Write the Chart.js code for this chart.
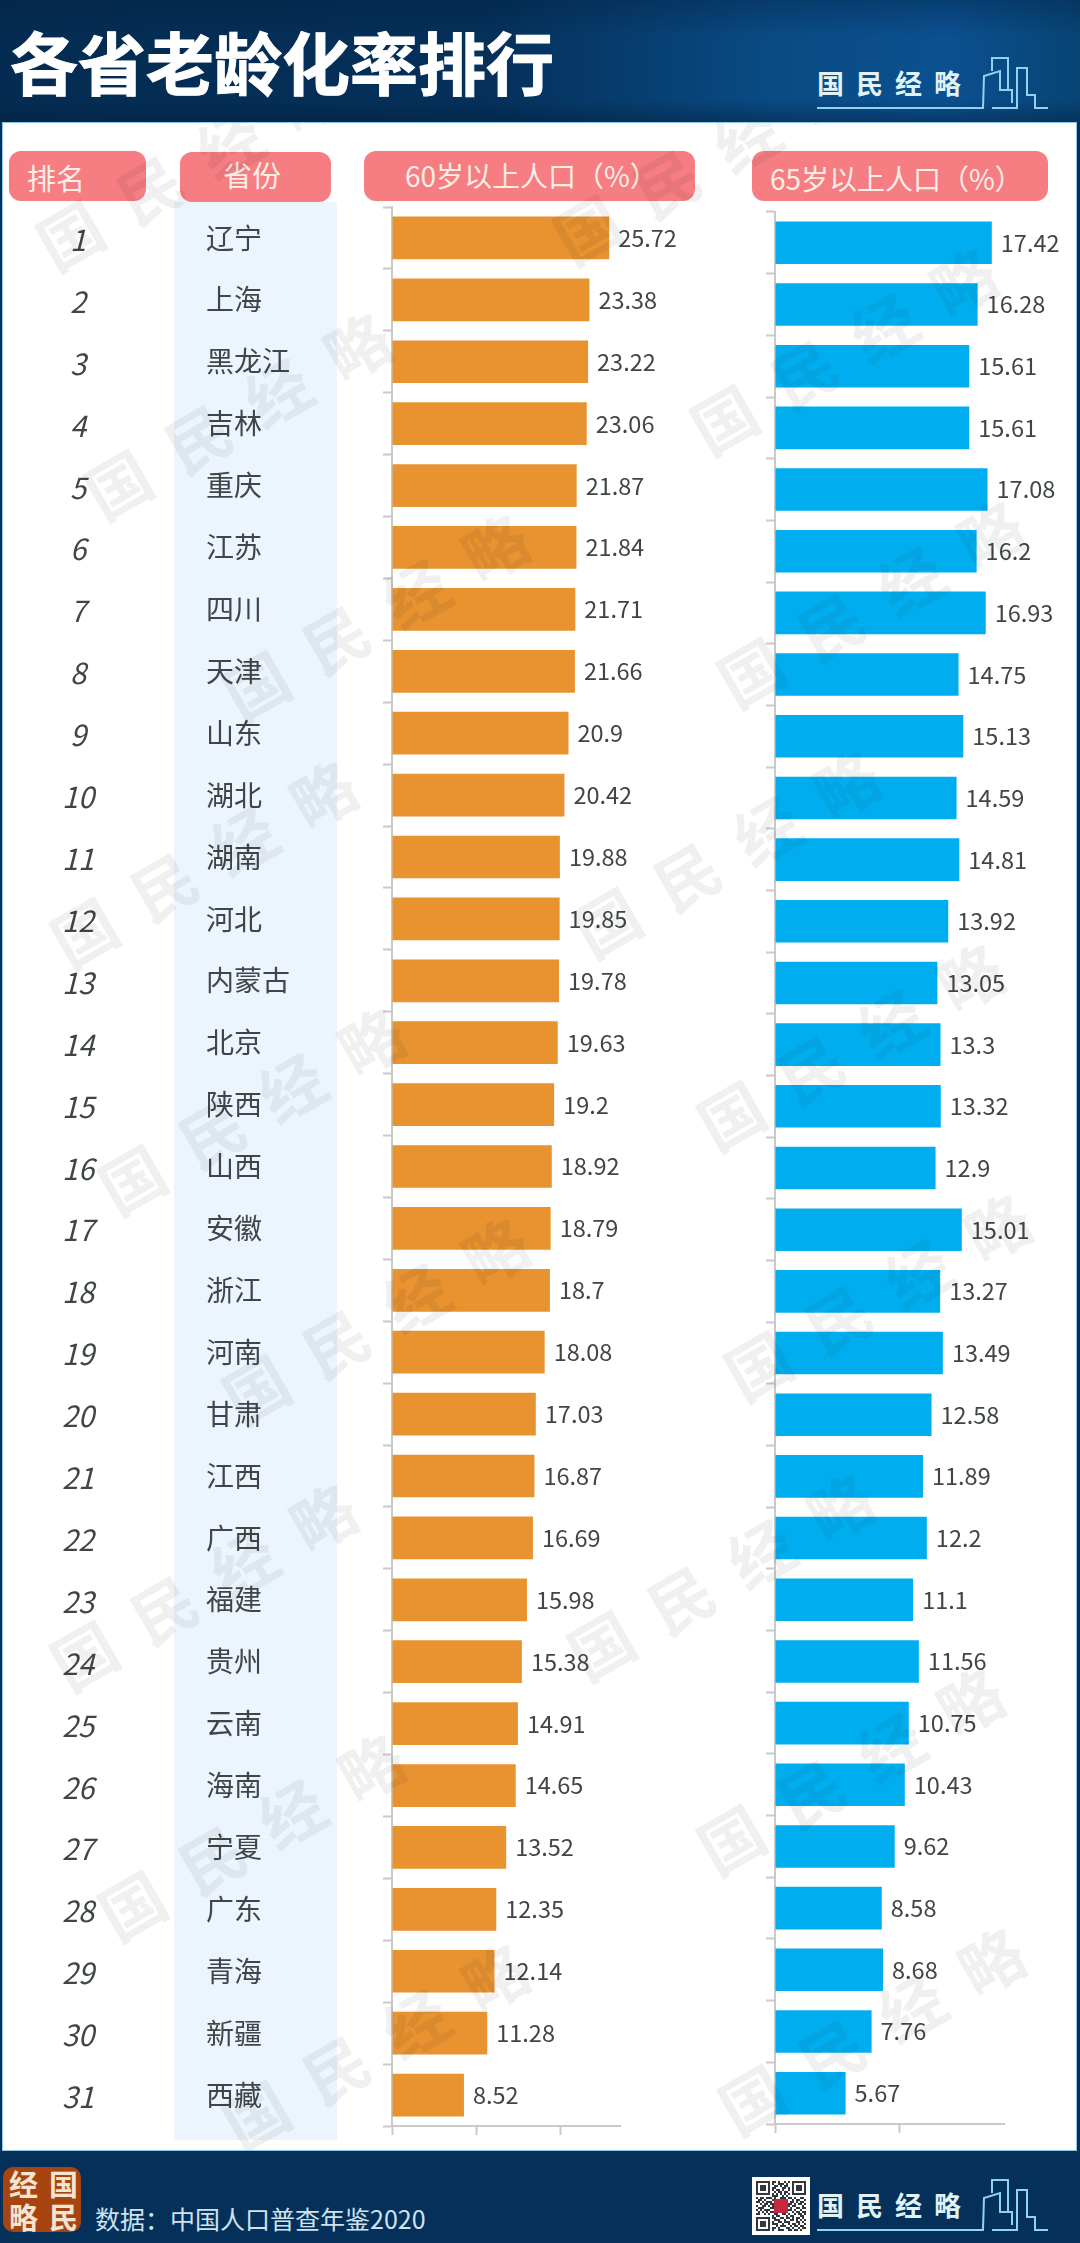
<!DOCTYPE html>
<html lang="zh">
<head>
<meta charset="utf-8">
<title>各省老龄化率排行</title>
<script src="https://cdn.jsdelivr.net/npm/chart.js@4"></script>
<style>
  html, body { margin: 0; padding: 0; }
  body { position: relative; width: 1080px; height: 2243px; overflow: hidden; background: #04305a;
         font-family: "Noto Sans CJK SC", sans-serif; color: #404548; }
  .abs, canvas { position: absolute; }
  #header { left: 0; top: 0; width: 1080px; height: 122px;
            background: linear-gradient(180deg, rgba(2,30,60,.35) 0, rgba(2,30,60,0) 30%, rgba(2,30,60,0) 82%, rgba(2,30,60,.45) 100%),
                        linear-gradient(90deg, #042c52 0, #04305a 45%, #0a4b84 72%, #0b5090 88%, #084474 100%); }
  #title { left: 10px; top: 24px; font-size: 68px; line-height: 74px; font-weight: 700; color: #fff; white-space: nowrap;
           -webkit-text-stroke: 1px #fff; }
  #panel { left: 2px; top: 122px; width: 1073px; height: 2027px; background: #fff; border: 1px solid #8cc6e4; box-sizing: content-box; }
  #provinceBand { left: 174px; top: 202px; width: 163px; height: 1938px; background: #ecf5fd; }
  .pill { background: #f67d82; border-radius: 12px; height: 50px; }
  .pillText { font-size: 28px; line-height: 40px; color: #fdeee6; white-space: nowrap; }
  #marks { left: 3px; top: 123px; width: 1073px; height: 2027px; overflow: hidden; pointer-events: none; }
  .wm { position: absolute; font-size: 64px; line-height: 64px; font-weight: 700; letter-spacing: 28px; white-space: nowrap;
        color: rgba(30,30,30,.065); transform-origin: 32px 32px; transform: rotate(-30deg); }
  #seal { left: 3px; top: 2167px; width: 78px; height: 65px; border-radius: 10px; background: #a8440f; }
  .sealChar { font-size: 29px; line-height: 30px; font-weight: 700; color: #f6e4d2; }
  #source { left: 95px; top: 2200px; font-size: 25px; line-height: 36px; color: #cfe2f0; white-space: nowrap; }
  .logoText { font-size: 27px; line-height: 30px; font-weight: 700; letter-spacing: 12px; color: #dff2f6; white-space: nowrap; }
</style>
</head>
<body>
<div class="abs" id="header"></div>
<div class="abs" id="title">各省老龄化率排行</div>
<div class="abs" id="panel"></div>

<div class="abs pill" style="left:9px;top:151px;width:137px"></div>
<div class="abs pillText" style="left:27px;top:157px;font-size:29px">排名</div>
<div class="abs pill" style="left:180px;top:152px;width:151px"></div>
<div class="abs pillText" style="left:223px;top:154px;font-size:29px">省份</div>
<div class="abs pill" style="left:364px;top:151px;width:331px"></div>
<div class="abs pillText" style="left:405px;top:155px">60岁以上人口&#xFF08;%&#xFF09;</div>
<div class="abs pill" style="left:752px;top:151px;width:296px"></div>
<div class="abs pillText" style="left:770px;top:158px">65岁以上人口&#xFF08;%&#xFF09;</div>

<div class="abs" id="provinceBand"></div>

<canvas id="chart60" width="703" height="1932" style="left:0;top:205px"></canvas>
<canvas id="chart65" width="300" height="1925" style="left:766px;top:210px"></canvas>

<div class="abs" id="marks"></div>

<div class="abs" id="seal"></div>
<div class="abs sealChar" style="left:9px;top:2168px">经</div>
<div class="abs sealChar" style="left:49px;top:2168px">国</div>
<div class="abs sealChar" style="left:9px;top:2201px">略</div>
<div class="abs sealChar" style="left:49px;top:2201px">民</div>
<div class="abs" id="source">数据&#xFF1A;中国人口普查年鉴2020</div>
<div id="logos"></div>
<svg class="abs" id="qr" style="left:752px;top:2177px" width="58" height="58"></svg>

<script>
const provinces = ["辽宁","上海","黑龙江","吉林","重庆","江苏","四川","天津","山东","湖北","湖南","河北","内蒙古","北京","陕西","山西","安徽","浙江","河南","甘肃","江西","广西","福建","贵州","云南","海南","宁夏","广东","青海","新疆","西藏"];
const over60 = [25.72,23.38,23.22,23.06,21.87,21.84,21.71,21.66,20.9,20.42,19.88,19.85,19.78,19.63,19.2,18.92,18.79,18.7,18.08,17.03,16.87,16.69,15.98,15.38,14.91,14.65,13.52,12.35,12.14,11.28,8.52];
const over65 = [17.42,16.28,15.61,15.61,17.08,16.2,16.93,14.75,15.13,14.59,14.81,13.92,13.05,13.3,13.32,12.9,15.01,13.27,13.49,12.58,11.89,12.2,11.1,11.56,10.75,10.43,9.62,8.58,8.68,7.76,5.67];
const ranks = provinces.map((_, i) => String(i + 1));

// where the first character of each watermark sits
const watermarkSpots = [[69,233],[117,482],[255,683],[83,930],[131,1177],[255,1387],[83,1653],[131,1903],[255,2113],
                        [586,227],[723,417],[750,670],[606,920],[730,1113],[757,1363],[600,1643],[730,1837],[751,2097]];

const LABEL_FONT = '23.5px "Noto Sans CJK SC"';
const LABEL_COLOR = "#404548";
const AXIS_COLOR = "#c9c9c9";

// value at the end of every bar
const barValues = {
  id: "barValues",
  afterDatasetsDraw(chart) {
    const { ctx } = chart;
    const values = chart.data.datasets[0].data;
    ctx.save();
    ctx.font = LABEL_FONT;
    ctx.fillStyle = LABEL_COLOR;
    ctx.textBaseline = "middle";
    chart.getDatasetMeta(0).data.forEach((bar, i) => ctx.fillText(String(values[i]), bar.x + 9, bar.y));
    ctx.restore();
  }
};

// rank and province columns follow the rows of the 60+ chart
const rowLabels = {
  id: "rowLabels",
  afterDraw(chart) {
    const { ctx, scales } = chart;
    ctx.save();
    ctx.fillStyle = LABEL_COLOR;
    ctx.textBaseline = "middle";
    provinces.forEach((name, i) => {
      const y = scales.y.getPixelForValue(i);
      ctx.textAlign = "center";
      ctx.font = 'italic 29px "Noto Sans CJK SC"';
      ctx.fillText(ranks[i], 78, y + 2);
      ctx.textAlign = "left";
      ctx.font = '28px "Noto Sans CJK SC"';
      ctx.fillText(name, 206, y);
    });
    ctx.restore();
  }
};

function makeChart(id, values, color, xMax, padding, extraPlugins) {
  return new Chart(document.getElementById(id), {
    type: "bar",
    data: {
      labels: provinces,
      datasets: [{ data: values, backgroundColor: color, barPercentage: 0.69, categoryPercentage: 1 }]
    },
    options: {
      indexAxis: "y",
      responsive: false,
      animation: false,
      layout: { padding },
      plugins: { legend: { display: false }, tooltip: { enabled: false } },
      scales: {
        y: {
          offset: true,
          afterFit: scale => { scale.width = 9; },
          border: { color: AXIS_COLOR, width: 2 },
          grid: { offset: true, drawOnChartArea: false, color: AXIS_COLOR, tickLength: 9, tickWidth: 2 },
          ticks: { display: false, autoSkip: false }
        },
        x: {
          min: 0,
          max: xMax,
          afterFit: scale => { scale.height = 9; },
          border: { color: AXIS_COLOR, width: 2 },
          grid: { drawOnChartArea: false, color: AXIS_COLOR, tickLength: 9, tickWidth: 2 },
          ticks: { display: false, stepSize: 10, includeBounds: false }
        }
      }
    },
    plugins: [barValues, ...extraPlugins]
  });
}

makeChart("chart60", over60, "#e89230", 27, { left: 383, right: 83, top: 2, bottom: 2 }, [rowLabels]);
makeChart("chart65", over65, "#00aeef", 18.4, { left: 0, right: 62, top: 2, bottom: 2 }, []);

// watermarks
const marks = document.getElementById("marks");
watermarkSpots.forEach(([x, y]) => {
  const el = document.createElement("span");
  el.className = "wm";
  el.textContent = "国民经略";
  el.style.left = (x - 3 - 32) + "px";
  el.style.top = (y - 123 - 32) + "px";
  marks.appendChild(el);
});

// brand mark, once in the header and once in the footer
function addLogo(dy) {
  const holder = document.getElementById("logos");
  const text = document.createElement("div");
  text.className = "abs logoText";
  text.textContent = "国民经略";
  text.style.left = "817px";
  text.style.top = (68 + dy) + "px";
  holder.appendChild(text);
  const svgNs = "http://www.w3.org/2000/svg";
  const svg = document.createElementNS(svgNs, "svg");
  svg.setAttribute("class", "abs");
  svg.setAttribute("width", 250);
  svg.setAttribute("height", 80);
  svg.style.left = "810px";
  svg.style.top = (40 + dy) + "px";
  ["7,68 173,68 174,36 190,31 190,50 202,50 202,63",
   "182,31 182,18 198,18 198,50",
   "182,68 207,68 207,28 217,28 217,55 225,55 225,68 238,68"].forEach(points => {
    const line = document.createElementNS(svgNs, "polyline");
    line.setAttribute("points", points);
    line.setAttribute("fill", "none");
    line.setAttribute("stroke", "#8fd2f2");
    line.setAttribute("stroke-width", 2);
    svg.appendChild(line);
  });
  holder.appendChild(svg);
}
addLogo(0);
addLogo(2122);

// small QR-like block in the footer
const qrRows = [
  "1111111011010010101111111","1000001010011101001000001","1011101001101011001011101","1011101011000110101011101",
  "1011101010110100101011101","1000001001011011001000001","1111111010101010101111111","0000000011100101000000000",
  "1011011101001110110100110","0110100010111001001011001","1101011100100111011010110","0010110111011000110101101",
  "1001101010000000101100010","0111000110000000010011011","1010111001000000110100100","0101010111011101001011011",
  "1100101001100110100101101","0000000010110001011000110","1111111011001101101011010","1000001001110010011010101",
  "1011101010011011100011010","1011101011100100101101001","1011101000101110010110110","1000001011010001101001011",
  "1111111010011100110110100"];
const qr = document.getElementById("qr");
let qrCells = '<rect width="58" height="58" fill="#fff"/>';
qrRows.forEach((row, r) => [...row].forEach((cell, c) => {
  if (cell === "1") qrCells += `<rect x="${4 + c * 2}" y="${4 + r * 2}" width="2" height="2" fill="#33373b"/>`;
}));
qrCells += '<rect x="22" y="22" width="14" height="14" fill="#c5283d"/>';
qr.innerHTML = qrCells;
</script>
</body>
</html>
